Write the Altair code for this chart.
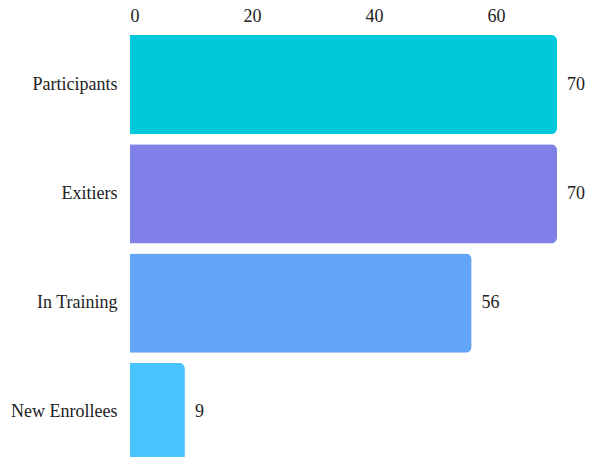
import altair as alt
import pandas as pd

categories = ["Participants", "Exitiers", "In Training", "New Enrollees"]
values = [70, 70, 56, 9]
colors = ["#00C9DB", "#7F80E8", "#63A5F9", "#4AC4FE"]

df = pd.DataFrame({"category": categories, "value": values})

FONT = "serif"
FS = 18

y_enc = alt.Y("category:N", sort=categories, title=None,
              scale=alt.Scale(paddingInner=0.09, paddingOuter=0.045),
              axis=alt.Axis(ticks=False, domain=False, labelPadding=13,
                            labelFont=FONT, labelFontSize=FS, labelColor="#222222"))
x_enc = alt.X("value:Q", title=None,
              scale=alt.Scale(domain=[0, 70], nice=False),
              axis=alt.Axis(orient="top", values=[0, 20, 40, 60], ticks=False, domain=False,
                            grid=False, labelPadding=5, labelFont=FONT, labelFontSize=FS,
                            labelColor="#222222"))

base = alt.Chart(df)

bars = base.mark_bar(cornerRadiusTopRight=6, cornerRadiusBottomRight=6).encode(
    x=x_enc,
    y=y_enc,
    color=alt.Color("category:N", sort=categories,
                    scale=alt.Scale(domain=categories, range=colors), legend=None),
)

labels = base.mark_text(align="left", baseline="middle", dx=10, font=FONT,
                        fontSize=FS, color="#222222").encode(
    x=alt.X("value:Q"),
    y=alt.Y("category:N", sort=categories),
    text=alt.Text("value:Q"),
)

chart = (bars + labels).properties(
    width=427, height=437,
    autosize="none",
    padding={"left": 130, "top": 30, "right": 36, "bottom": 0},
).configure(background="white", font=FONT).configure_view(
    strokeWidth=0).configure_axis(grid=False)

chart.save("out.html", embed_options={"renderer": "svg", "actions": False})
